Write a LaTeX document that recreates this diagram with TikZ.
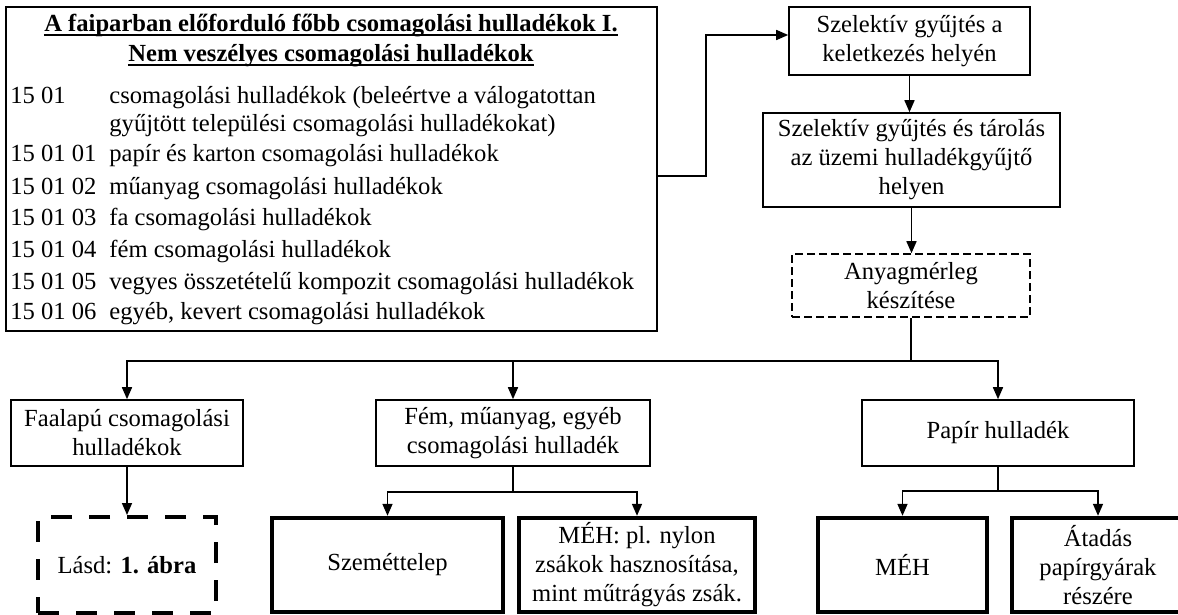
\documentclass[tikz,border=0pt]{standalone}
\usepackage{fontspec}
\setmainfont{Liberation Serif}
\usetikzlibrary{arrows.meta}

\begin{document}
\begin{tikzpicture}[x=0.5pt,y=-0.5pt,font=\fontsize{12.3}{14.5}\selectfont,
    % styles
    box/.style={draw,line width=0.8pt,align=center,inner sep=2pt},
    thick box/.style={box,line width=2.2pt},
    mass box/.style={box,dash pattern=on 4pt off 2pt},
    see box/.style={box,line width=2pt,dash pattern=on 10.5pt off 8.5pt},
    item/.style={anchor=base west,inner sep=0pt},
    heading/.style={anchor=base,inner sep=0pt,font=\fontsize{12.3}{14.5}\selectfont\bfseries},
    flow/.style={line width=0.8pt,-{Triangle[width=5pt,length=6pt]}},
    link/.style={line width=0.8pt}]

  % frame
  \path[use as bounding box] (0,0) rectangle (1178,615);
  \clip (0,0) rectangle (1178,615);

  % list of packaging waste
  \node[box,minimum width=325.5pt,minimum height=162pt] (list) at (331.5,169) {};
  \node[heading] (title1) at (331,32) {A faiparban előforduló főbb csomagolási hulladékok I.};
  \node[heading] (title2) at (331,62) {Nem veszélyes csomagolási hulladékok};
  \foreach \t in {title1,title2}
    \draw[line width=0.9pt] ([yshift=-1.6pt]\t.base west) -- ([yshift=-1.6pt]\t.base east);

  \foreach \y/\code in {97/15 01,155/15 01 01,187/15 01 02,218/15 01 03,
                        250/15 01 04,282/15 01 05,312/15 01 06}
    \node[item] (code\y) at (10,\y+7) {\code};
  \foreach \y/\desc in {97/{csomagolási hulladékok (beleértve a válogatottan},
                        125/{gyűjtött települési csomagolási hulladékokat)},
                        155/{papír és karton csomagolási hulladékok},
                        187/{műanyag csomagolási hulladékok},
                        218/{fa csomagolási hulladékok},
                        250/{fém csomagolási hulladékok},
                        282/{vegyes összetételű kompozit csomagolási hulladékok},
                        312/{egyéb, kevert csomagolási hulladékok}}
    \node[item] (desc\y) at (109,\y+7) {\desc};

  % collection steps
  \node[box,minimum width=120.5pt,minimum height=34pt] (gather) at (909.5,41)
    {Szelektív gyűjtés a\\keletkezés helyén};
  \node[box,minimum width=148.5pt,minimum height=47pt] (store) at (911.5,160)
    {Szelektív gyűjtés és tárolás\\az üzemi hulladékgyűjtő\\helyen};
  \node[mass box,minimum width=119pt,minimum height=31.5pt] (balance) at (911,285.5)
    {Anyagmérleg\\készítése};

  % waste groups
  \node[box,minimum width=115.75pt,minimum height=33pt] (wood) at (127,433)
    {Faalapú csomagolási\\hulladékok};
  \node[box,minimum width=137pt,minimum height=33pt] (mixed) at (513,433)
    {Fém, műanyag, egyéb\\csomagolási hulladék};
  \node[box,minimum width=136pt,minimum height=33pt] (paper) at (998,433)
    {Papír hulladék};

  % destinations
  \node[see box,minimum width=89pt,minimum height=48pt] (see) at (127,565)
    {Lásd: \textbf{1. ábra}};
  \node[thick box,minimum width=115.5pt,minimum height=47pt] (dump) at (387.5,565)
    {Szeméttelep};
  \node[thick box,inner xsep=0pt,minimum width=118pt,minimum height=47pt] (nylon) at (637,565)
    {MÉH: pl. nylon\\zsákok hasznosítása,\\mint műtrágyás zsák.};
  \node[thick box,minimum width=84.5pt,minimum height=47pt] (scrap) at (902.5,565)
    {MÉH};
  \node[thick box,minimum width=86pt,minimum height=47pt] (mill) at (1098,565)
    {Átadás\\papírgyárak\\részére};

  % connectors
  \draw[flow] ([yshift=-3.5pt]list.east) -- ++(48,0) |- ([yshift=3pt]gather.west);
  \draw[flow] (gather.south) -- (gather.south |- store.north);
  \draw[flow] (store.south) -- (store.south |- balance.north);

  \coordinate (fork) at (911,361);
  \draw[link] (balance.south) -- (fork);
  \foreach \n in {wood,mixed,paper}
    \draw[flow] (fork) -| (\n.north);

  \draw[flow] (wood.south) -- (see.north);

  \coordinate (mixed fork) at (513,492);
  \draw[link] (mixed.south) -- (mixed fork);
  \foreach \n in {dump,nylon}
    \draw[flow] (mixed fork) -| (\n.north);

  \coordinate (paper fork) at (998,491);
  \draw[link] (paper.south) -- (paper fork);
  \foreach \n in {scrap,mill}
    \draw[flow] (paper fork) -| (\n.north);
\end{tikzpicture}
\end{document}
